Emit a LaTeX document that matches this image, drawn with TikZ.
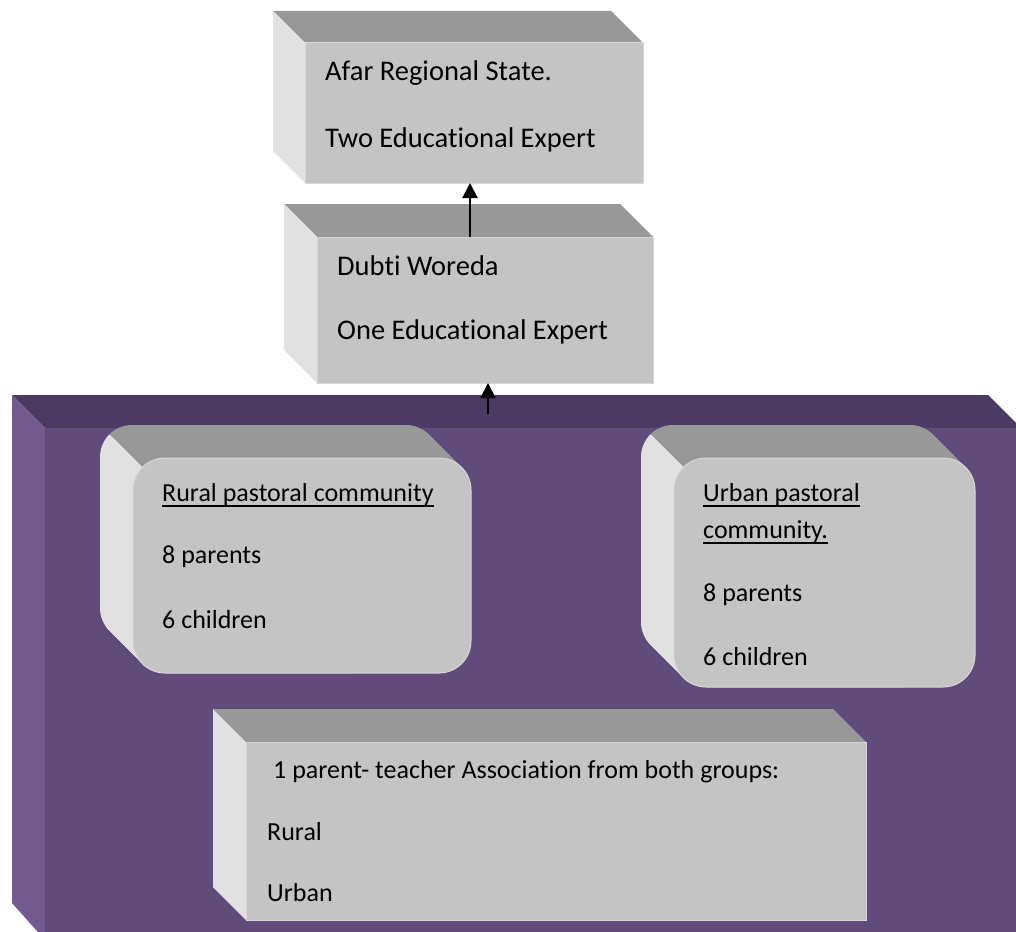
\documentclass[tikz,border=0pt]{standalone}
\usepackage{fontspec}
\setmainfont[Ligatures=NoCommon]{Carlito}
\usetikzlibrary{arrows.meta}
\definecolor{gtop}{HTML}{989898}
\definecolor{gfront}{HTML}{C4C4C4}
\definecolor{gleft}{HTML}{E1E1E1}
\definecolor{gedge}{HTML}{D6D6D6}
\definecolor{ptop}{HTML}{4B3A62}
\definecolor{pfront}{HTML}{614B7B}
\definecolor{pleft}{HTML}{725A8F}
% cuboid: front face x1,y1,x2,y2 ; depth d ; node name
\newcommand\mycuboid[6]{%
  \fill[gtop] ({#1-#5},{#2-#5}) -- ({#3-#5},{#2-#5}) -- (#3,#2) -- (#1,#2) -- cycle;
  \fill[gleft] ({#1-#5},{#2-#5}) -- (#1,#2) -- (#1,#4) -- ({#1-#5},{#4-#5}) -- cycle;
  \node[frontface, anchor=north west, minimum width={#3-#1}, minimum height={#4-#2}] (#6) at (#1,#2) {};
}
% rounded extruded box
\newcommand\myroundbox[7]{%
  \begin{scope}
    \clip ({#1-200},{#2-200}) -- ({#1+1000},{#2+1000}) -- ({#1+1000},{#2-200}) -- cycle;
    \foreach \i in {0,...,#5} {\fill[gtop, rounded corners=#6] ({#1-\i},{#2-\i}) rectangle ({#3-\i},{#4-\i});}
  \end{scope}
  \begin{scope}
    \clip ({#1-200},{#2-200}) -- ({#1+1000},{#2+1000}) -- ({#1-200},{#2+1000}) -- cycle;
    \foreach \i in {0,...,#5} {\fill[gleft, rounded corners=#6] ({#1-\i},{#2-\i}) rectangle ({#3-\i},{#4-\i});}
  \end{scope}
  \node[frontface, rounded corners=#6, anchor=north west, minimum width={#3-#1}, minimum height={#4-#2}] (#7) at (#1,#2) {};
}
\tikzset{
  frontface/.style={fill=gfront, draw=gedge, line width=1pt, inner sep=0pt, outer sep=0pt, rectangle},
  toptxt/.style={anchor=west, inner sep=0pt, font=\fontsize{28.5}{32}\selectfont, text=black},
  bigtxt/.style={anchor=west, inner sep=0pt, font=\fontsize{26}{30}\selectfont, text=black},
  smalltxt/.style={anchor=west, inner sep=0pt, font=\fontsize{26}{30}\selectfont, text=black},
  ulline/.style={draw=black, line width=1.8pt},
  uparrow/.style={draw=black, line width=2pt, -{Triangle[width=15pt,length=15pt]}}
}
\begin{document}
\begin{tikzpicture}[x=1pt,y=-1pt]
\useasboundingbox (0,0) rectangle (1016,931);
\begin{scope}
\clip (0,0) rectangle (1016,931);
% purple platform
\fill[ptop] (12,395) -- (988,395) -- (1022,429) -- (45,428) -- cycle;
\fill[pleft] (12,395) -- (45,428) -- (45,940) -- (12,903) -- cycle;
\node[fill=pfront, inner sep=0pt, outer sep=0pt, anchor=north west, minimum width=990, minimum height=520] (platform) at (45,428) {};
\end{scope}

% top boxes
\mycuboid{305}{43}{643}{183}{32}{afar}
\node[toptxt] (afar1) at (325,73) {Afar Regional State.};
\node[toptxt] (afar2) at (325,140) {Two Educational Expert};

\mycuboid{317}{237}{653}{383}{33}{dubti}
\node[toptxt] (dubti1) at (337,266) {Dubti Woreda};
\node[toptxt] (dubti2) at (337,332) {One Educational Expert};

% rounded boxes
\myroundbox{133}{458}{471}{673}{33}{32}{rural}
\node[bigtxt] (rural1) at (162,495) {Rural pastoral community};
\draw[ulline] ([yshift=-4pt]rural1.base west) -- ([yshift=-4pt]rural1.base east);
\node[bigtxt] (rural2) at (162,557) {8 parents};
\node[bigtxt] (rural3) at (162,620) {6 children};

\myroundbox{674}{458}{975}{687}{33}{32}{urban}
\node[bigtxt] (urban1) at (703,495) {Urban pastoral};
\draw[ulline] ([yshift=-4pt]urban1.base west) -- ([yshift=-4pt]urban1.base east);
\node[bigtxt] (urban2) at (703,532) {community.};
\draw[ulline] ([yshift=-4pt]urban2.base west) -- ([yshift=-4pt]urban2.base east);
\node[bigtxt] (urban3) at (703,595) {8 parents};
\node[bigtxt] (urban4) at (703,657) {6 children};

% parent-teacher box
\mycuboid{246}{742}{866}{920}{33}{pta}
\node[smalltxt] (pta1) at (273,772) {1 parent- teacher Association from both groups:};
\node[smalltxt] (pta2) at (267,832) {Rural};
\node[smalltxt] (pta3) at (267,893) {Urban};

% arrows
\coordinate (a1) at (470,237);
\draw[uparrow] (a1) -- (a1 |- afar.south);
\coordinate (a2) at (488,414);
\draw[uparrow] (a2) -- (a2 |- dubti.south);
\end{tikzpicture}
\end{document}
